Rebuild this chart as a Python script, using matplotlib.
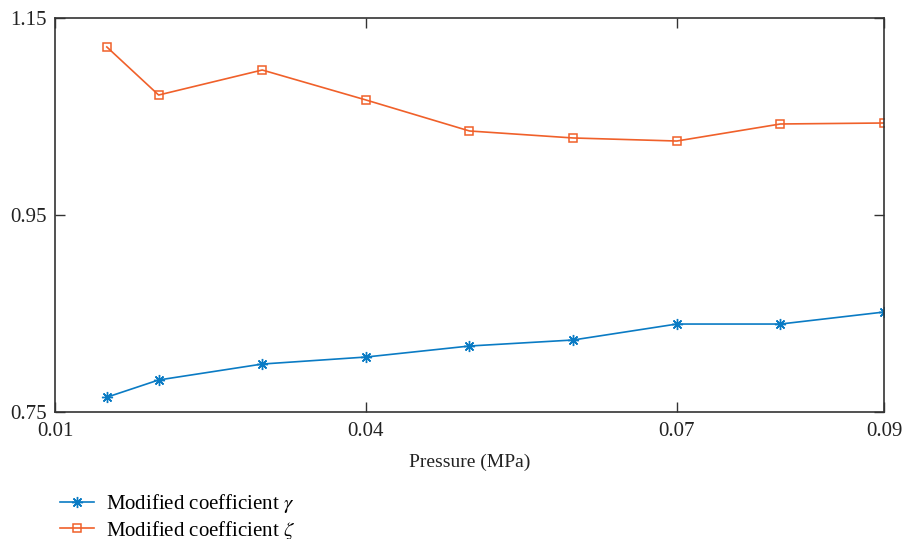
import matplotlib.pyplot as plt

pressure = [0.015, 0.02, 0.03, 0.04, 0.05, 0.06, 0.07, 0.08, 0.09]
gamma = [0.765, 0.7825, 0.7987, 0.8058, 0.817, 0.8231, 0.8393, 0.8393, 0.8515]
zeta = [1.1206, 1.0718, 1.0972, 1.0668, 1.0353, 1.0282, 1.0251, 1.0424, 1.0434]
xticks = [0.01, 0.04, 0.07, 0.09]
yticks = [0.75, 0.95, 1.15]

plt.rcParams['font.family'] = ['Liberation Serif', 'DejaVu Serif']
plt.rcParams['mathtext.fontset'] = 'stix'

fig = plt.figure(figsize=(9.03, 5.39), dpi=100)
ax = fig.add_axes([55/903, 1-412/539, (884-55)/903, (412-18)/539])

blue = '#0a7bc4'
orange = '#f0602a'
ax.plot(pressure, gamma, color=blue, lw=1.2, marker=(8, 2, 0), ms=8, mew=1.0,
        label=r'Modified coefficient $\gamma$')
ax.plot(pressure, zeta, color=orange, lw=1.2, marker='s', ms=6, mfc='none', mew=1.1,
        label=r'Modified coefficient $\zeta$')

ax.set_xlim(0.01, 0.09)
ax.set_ylim(0.75, 1.15)
ax.set_xticks(xticks)
ax.set_xticklabels(['0.01', '0.04', '0.07', '0.09'])
ax.set_yticks(yticks)
ax.set_yticklabels(['0.75', '0.95', '1.15'])
ax.tick_params(direction='in', top=True, right=True, length=7, width=1,
               labelsize=15, colors='#333333', labelcolor='#222222')
ax.tick_params(axis='x', pad=7)
ax.tick_params(axis='y', pad=6)
for s in ax.spines.values():
    s.set_linewidth(1.2)
    s.set_color('#333333')

ax.set_xlabel('Pressure (MPa)', fontsize=14, color='#222222', labelpad=9)

fig.legend(loc='upper left', bbox_to_anchor=(50/903, 1-482/539), frameon=False,
           fontsize=15, handlelength=1.6, handletextpad=0.6, labelspacing=0.15,
           borderpad=0)

fig.savefig('out.png', dpi=100)
